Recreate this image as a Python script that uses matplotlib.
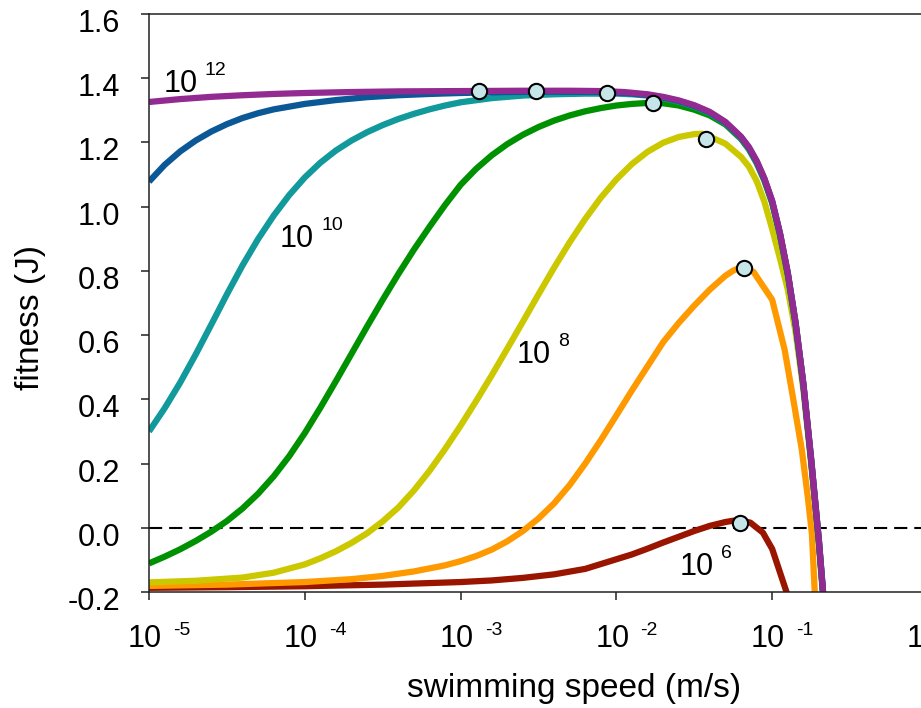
import numpy as np
import matplotlib
matplotlib.use("Agg")
import matplotlib.pyplot as plt
import matplotlib.transforms as mtransforms

plt.rcParams["font.family"] = ["Liberation Sans", "DejaVu Sans"]
plt.rcParams["lines.scale_dashes"] = False

# ---- data: log10(swimming speed, m/s) and fitness (J) for each prey density ----
# shared high-speed decline (drag dominated)
logv_fall = [-1.8, -1.7, -1.6, -1.5, -1.4, -1.3, -1.2, -1.15, -1.1, -1.05, -1.0, -0.95,
             -0.9, -0.85, -0.8, -0.75, -0.7, -0.67]

logv_1e12 = [-5.0, -4.8, -4.6, -4.4, -4.2, -4.0, -3.7, -3.4, -3.0, -2.6, -2.3, -2.1, -1.95] + logv_fall
fit_1e12 = [1.326, 1.335, 1.342, 1.347, 1.351, 1.354, 1.357, 1.359, 1.360, 1.361, 1.361, 1.360, 1.357,
            1.350, 1.342, 1.331, 1.316, 1.295, 1.264, 1.218, 1.186, 1.143, 1.088, 1.018, 0.918,
            0.795, 0.640, 0.450, 0.215, -0.040, -0.220]

logv_1e11 = [-5.0, -4.9, -4.8, -4.7, -4.6, -4.5, -4.4, -4.3, -4.2, -4.0, -3.8, -3.6, -3.4, -3.2,
             -3.0, -2.7, -2.4, -2.1, -1.95] + logv_fall
fit_1e11 = [1.078, 1.130, 1.172, 1.206, 1.234, 1.257, 1.276, 1.291, 1.303, 1.320, 1.332, 1.341,
            1.347, 1.351, 1.354, 1.357, 1.358, 1.357, 1.354,
            1.348, 1.340, 1.329, 1.314, 1.293, 1.262, 1.216, 1.184, 1.141, 1.086, 1.016, 0.916,
            0.793, 0.638, 0.448, 0.213, -0.042, -0.222]

logv_1e10 = [-5.0, -4.9, -4.8, -4.7, -4.6, -4.5, -4.4, -4.3, -4.2, -4.1, -4.0, -3.9, -3.8, -3.7,
             -3.6, -3.5, -3.4, -3.3, -3.2, -3.1, -3.0, -2.8, -2.6, -2.4, -2.2, -2.0, -1.9] + logv_fall
fit_1e10 = [0.300, 0.372, 0.452, 0.540, 0.633, 0.727, 0.817, 0.899, 0.972, 1.036, 1.091, 1.137,
            1.175, 1.206, 1.232, 1.254, 1.273, 1.289, 1.303, 1.315, 1.325, 1.338, 1.346, 1.350,
            1.352, 1.352, 1.350,
            1.346, 1.338, 1.327, 1.312, 1.291, 1.260, 1.214, 1.182, 1.139, 1.084, 1.014, 0.914,
            0.791, 0.636, 0.446, 0.211, -0.044, -0.224]

logv_1e9 = [-5.0, -4.9, -4.8, -4.7, -4.6, -4.5, -4.4, -4.3, -4.2, -4.1, -4.0, -3.9, -3.8, -3.7,
            -3.6, -3.5, -3.4, -3.3, -3.2, -3.1, -3.0, -2.9, -2.8, -2.7, -2.6, -2.5, -2.4, -2.3,
            -2.2, -2.1, -2.0, -1.9, -1.8, -1.7, -1.6, -1.5, -1.4, -1.3, -1.2, -1.15, -1.1, -1.05,
            -1.0, -0.95, -0.9, -0.85, -0.8, -0.75, -0.7, -0.67]
fit_1e9 = [-0.111, -0.090, -0.067, -0.041, -0.012, 0.021, 0.060, 0.106, 0.160, 0.223, 0.295,
           0.374, 0.457, 0.542, 0.627, 0.710, 0.790, 0.866, 0.937, 1.005, 1.068, 1.118, 1.160,
           1.195, 1.224, 1.248, 1.268, 1.284, 1.297, 1.307, 1.315, 1.320, 1.323, 1.322, 1.315,
           1.302, 1.284, 1.256, 1.211, 1.179, 1.136, 1.081, 1.011, 0.911, 0.788, 0.633, 0.443,
           0.208, -0.047, -0.227]

logv_1e8 = [-5.0, -4.7, -4.4, -4.2, -4.0, -3.9, -3.8, -3.7, -3.6, -3.5, -3.4, -3.3, -3.2, -3.1,
            -3.0, -2.9, -2.8, -2.7, -2.6, -2.5, -2.4, -2.3, -2.2, -2.1, -2.0, -1.9, -1.8, -1.7,
            -1.6, -1.5, -1.45, -1.4, -1.3, -1.2, -1.15, -1.1, -1.05, -1.0, -0.95, -0.9, -0.85,
            -0.8, -0.75, -0.7, -0.67]
fit_1e8 = [-0.170, -0.165, -0.155, -0.140, -0.114, -0.095, -0.073, -0.047, -0.017, 0.020, 0.063,
           0.116, 0.177, 0.245, 0.318, 0.395, 0.475, 0.558, 0.642, 0.727, 0.810, 0.889, 0.962,
           1.028, 1.085, 1.133, 1.171, 1.199, 1.217, 1.226, 1.227, 1.218, 1.196, 1.155, 1.125,
           1.080, 1.015, 0.930, 0.838, 0.742, 0.610, 0.430, 0.200, -0.055, -0.235]

logv_1e7 = [-5.0, -4.5, -4.0, -3.7, -3.5, -3.3, -3.1, -3.0, -2.9, -2.8, -2.7, -2.6, -2.5, -2.4,
            -2.3, -2.2, -2.1, -2.0, -1.9, -1.8, -1.7, -1.6, -1.5, -1.4, -1.3, -1.25, -1.2, -1.12,
            -1.0, -0.92, -0.864, -0.81, -0.77, -0.745, -0.725]
fit_1e7 = [-0.181, -0.177, -0.169, -0.160, -0.150, -0.136, -0.117, -0.104, -0.088, -0.068,
           -0.042, -0.010, 0.029, 0.076, 0.133, 0.200, 0.273, 0.350, 0.428, 0.503, 0.578, 0.638,
           0.692, 0.742, 0.785, 0.801, 0.811, 0.797, 0.710, 0.554, 0.398, 0.243, 0.090, -0.020,
           -0.220]

logv_1e6 = [-5.0, -4.5, -4.0, -3.5, -3.0, -2.8, -2.6, -2.4, -2.2, -2.0, -1.9, -1.8, -1.7, -1.6,
            -1.5, -1.4, -1.3, -1.25, -1.2, -1.14, -1.06, -1.0, -0.9]
fit_1e6 = [-0.187, -0.185, -0.182, -0.177, -0.169, -0.164, -0.156, -0.145, -0.128, -0.098,
           -0.083, -0.065, -0.046, -0.028, -0.010, 0.006, 0.018, 0.022, 0.022, 0.016, -0.015,
           -0.066, -0.212]

# optimal swimming speed for each density (10^12 ... 10^6)
opt_logv = [-2.882, -2.516, -2.058, -1.767, -1.427, -1.179, -1.207]
opt_fit = [1.360, 1.360, 1.354, 1.323, 1.212, 0.808, 0.016]

# curve annotations: (exponent, log10 speed, fitness) of the "10" baseline
curve_labels = [("12", -4.904, 1.356), ("10", -4.159, 0.874),
                ("8", -2.638, 0.513), ("6", -1.592, -0.146)]

x_tick_exps = [-5, -4, -3, -2, -1, 0]
y_ticks = [-0.2, 0.0, 0.2, 0.4, 0.6, 0.8, 1.0, 1.2, 1.4, 1.6]
y_tick_labels = ["-0.2", "0.0", "0.2", "0.4", "0.6", "0.8", "1.0", "1.2", "1.4", "1.6"]

series = [
    (logv_1e6, fit_1e6, "#991500"),
    (logv_1e7, fit_1e7, "#FF9900"),
    (logv_1e8, fit_1e8, "#CCC800"),
    (logv_1e9, fit_1e9, "#009100"),
    (logv_1e10, fit_1e10, "#11999C"),
    (logv_1e11, fit_1e11, "#0B5897"),
    (logv_1e12, fit_1e12, "#922A91"),
]

# ---- figure ----
fig = plt.figure(figsize=(9.21, 7.08), dpi=100)
W, H = 921, 708
ax = fig.add_axes([149 / W, (H - 592) / H, (928 - 149) / W, (592 - 14) / H])
ax.set_xscale("log")
ax.set_xlim(1e-5, 1e0)
ax.set_ylim(-0.2, 1.6)

ax.axhline(0.0, color="black", lw=1.5, dashes=(9.5, 5.0), zorder=1)

for lv, fv, col in series:
    ax.plot(10 ** np.asarray(lv), fv, color=col, lw=4.5, solid_joinstyle="round",
            solid_capstyle="butt", zorder=2)

ax.plot(10 ** np.asarray(opt_logv), opt_fit, ls="none", marker="o", ms=11,
        mfc="#C6E5E8", mec="black", mew=1.5, zorder=5)

# spines and ticks
for side in ("left", "bottom", "top"):
    ax.spines[side].set_color("#222222")
    ax.spines[side].set_linewidth(1.1)
ax.spines["right"].set_visible(False)
ax.set_xticks([10.0 ** e for e in x_tick_exps])
ax.xaxis.set_minor_locator(matplotlib.ticker.NullLocator())
ax.set_yticks(y_ticks)
ax.tick_params(direction="out", length=6, width=1.1, color="#222222",
               labelbottom=False, labelleft=False)

fs = 22
sup_fs = 14

# x tick labels as 10 with a raised exponent
xt = mtransforms.blended_transform_factory(ax.transData, ax.transAxes)
for e in x_tick_exps:
    base = mtransforms.offset_copy(xt, fig=fig, x=-2.9, y=-39.6, units="points")
    ax.text(10.0 ** e, 0, "10", transform=base, ha="center", va="baseline",
            fontsize=fs, clip_on=False)
    if e != 0:
        sup = mtransforms.offset_copy(xt, fig=fig, x=17.3, y=-31.0, units="points")
        ax.text(10.0 ** e, 0, "%d" % e, transform=sup, ha="left", va="baseline",
                fontsize=sup_fs, clip_on=False)

# y tick labels
yt = mtransforms.blended_transform_factory(ax.transAxes, ax.transData)
ytr = mtransforms.offset_copy(yt, fig=fig, x=-20.9, y=-13.0, units="points")
for v, s in zip(y_ticks, y_tick_labels):
    ax.text(0, v, s, transform=ytr, ha="right", va="baseline", fontsize=fs, clip_on=False)

# density labels on the curves
for ex, lv, fv in curve_labels:
    ax.text(10 ** lv, fv, "10", ha="left", va="baseline", fontsize=fs, zorder=6)
    st = mtransforms.offset_copy(ax.transData, fig=fig, x=29.5, y=12.2, units="points")
    ax.text(10 ** lv, fv, ex, transform=st, ha="left", va="baseline", fontsize=sup_fs, zorder=6)

fig.text(574 / W, 1 - 689 / H, "swimming speed (m/s)", ha="center", va="center", fontsize=24)
fig.text(30 / W, 1 - 317 / H, "fitness (J)", ha="center", va="center", rotation=90, fontsize=24)

fig.savefig("out.png", dpi=100)
